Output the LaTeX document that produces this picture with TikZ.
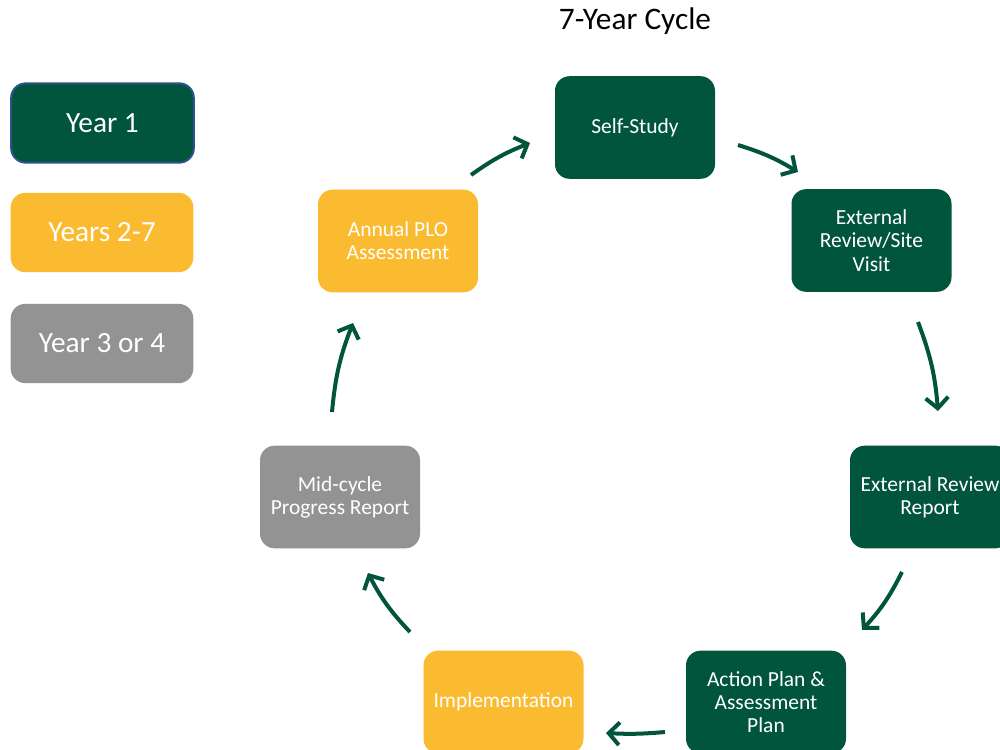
\documentclass[tikz,border=0pt]{standalone}
\usepackage{fontspec}
\setmainfont{Carlito}
\usetikzlibrary{arrows.meta}
\definecolor{dgreen}{RGB}{0,85,60}
\definecolor{gold}{RGB}{251,187,48}
\definecolor{midgrey}{RGB}{147,147,147}
\definecolor{edgeblue}{RGB}{47,82,143}
\tikzset{
  box/.style={rounded corners=11pt, minimum width=120pt, minimum height=77pt, inner sep=1pt,
    text=white, align=center, font=\fontsize{16.1}{17.4}\selectfont},
  legend/.style={rounded corners=11pt, minimum width=137pt, minimum height=59.5pt,
    text=white, font=\fontsize{22}{26}\selectfont},
  flow/.style={draw=dgreen, line width=3pt, -{Straight Barb[length=8pt,width=17pt,line width=3pt]}},
}
\begin{document}
\begin{tikzpicture}[x=0.75pt,y=-0.75pt]
\useasboundingbox (0,0) rectangle (1000,750);
\clip (0,0) rectangle (1000,750);
\node (title) at (635,21) {\fontsize{23.5}{28}\selectfont 7-Year Cycle};
% legend
\node[legend, fill=dgreen, draw=edgeblue, line width=1.5pt] (l1) at (102.5,123) {Year 1};
\node[legend, fill=gold] (l2) at (102,232.5) {Years 2-7};
\node[legend, fill=midgrey] (l3) at (102,343.5) {Year 3 or 4};
% cycle
\node[box, fill=dgreen] (ss) at (635,127.5) {Self-Study};
\node[box, fill=dgreen] (erv) at (871.5,240.5) {External\\Review/Site\\Visit};
\node[box, fill=dgreen] (err) at (930,497) {External Review\\Report};
\node[box, fill=dgreen] (ap) at (766,702) {Action Plan \&\\Assessment\\Plan};
\node[box, fill=gold] (imp) at (503.5,702) {Implementation};
\node[box, fill=midgrey] (mid) at (340,497) {Mid-cycle\\Progress Report};
\node[box, fill=gold] (plo) at (398,241) {Annual PLO\\Assessment};
% arrow ends
\coordinate (a1s) at (471,175); \coordinate (a1e) at (530,143);
\coordinate (a2s) at (738,145); \coordinate (a2e) at (798,172);
\coordinate (a3s) at (918,322); \coordinate (a3e) at (938,411);
\coordinate (a4s) at (902,572); \coordinate (a4e) at (862,630);
\coordinate (a5s) at (665,732); \coordinate (a5e) at (606,733);
\coordinate (a6s) at (410,632); \coordinate (a6e) at (368,573);
\coordinate (a7s) at (332,412); \coordinate (a7e) at (353,323);
\draw[flow] (a1s) to[bend left=7] (a1e);
\draw[flow] (a2s) to[bend left=7] (a2e);
\draw[flow] (a3s) to[bend left=8] (a3e);
\draw[flow] (a4s) to[bend left=8] (a4e);
\draw[flow] (a5s) to[bend left=4] (a5e);
\draw[flow] (a6s) to[bend left=8] (a6e);
\draw[flow] (a7s) to[bend left=8] (a7e);
\end{tikzpicture}
\end{document}
